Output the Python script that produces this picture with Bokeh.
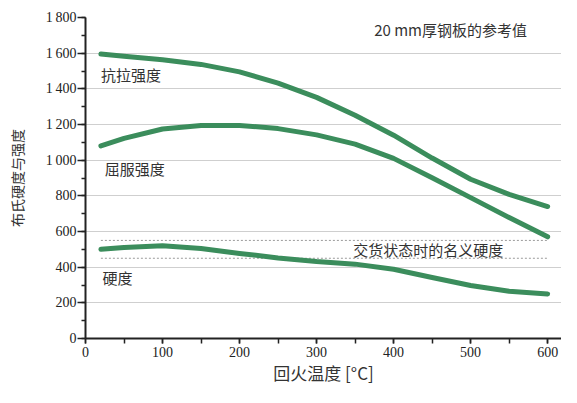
from bokeh.plotting import figure
from bokeh.models import Range1d, CustomJSTickFormatter, FixedTicker, Label
from bokeh.embed import file_html
from bokeh.resources import INLINE

temps = [20, 50, 100, 150, 200, 250, 300, 350, 400, 450, 500, 550, 600]
tensile = [1595, 1583, 1563, 1537, 1495, 1432, 1352, 1252, 1140, 1012, 893, 808, 740]
yield_s = [1080, 1122, 1175, 1195, 1195, 1177, 1142, 1090, 1010, 902, 790, 678, 570]
hardness = [500, 510, 520, 505, 477, 452, 432, 417, 388, 342, 297, 265, 250]
nominal_x = [20, 600]
nominal_hi = [550, 550]
nominal_lo = [450, 450]
y_ticks = [0, 200, 400, 600, 800, 1000, 1200, 1400, 1600, 1800]
x_ticks = [0, 100, 200, 300, 400, 500, 600]

GREEN = "#3b8d5c"
CJK = "Noto Sans CJK SC"
SERIF = "Liberation Serif"

p = figure(width=561, height=387, output_backend="svg", toolbar_location=None,
           x_range=Range1d(0, 618), y_range=Range1d(0, 1800),
           min_border_left=85, min_border_right=0, min_border_top=17, min_border_bottom=47)
p.outline_line_color = None
p.background_fill_color = "white"

# grid
p.xgrid.visible = False
p.ygrid.ticker = FixedTicker(ticks=y_ticks)
p.ygrid.grid_line_color = "#cfcfcf"
p.ygrid.grid_line_width = 1

# axes
for axes in (p.xaxis, p.yaxis):
    axes.axis_line_color = "#222222"
    axes.axis_line_width = 2
    axes.major_tick_line_color = "#222222"
    axes.minor_tick_line_color = "#222222"
    axes.major_tick_line_width = 1.5
    axes.minor_tick_line_width = 1.5
    axes.major_label_text_font = SERIF
    axes.major_label_text_font_size = "14px"
    axes.major_label_text_color = "#222222"
    axes.axis_label_text_font = CJK
    axes.axis_label_text_font_style = "normal"
    axes.axis_label_text_color = "#333333"

p.yaxis.ticker = FixedTicker(ticks=y_ticks, minor_ticks=list(range(0, 1801, 100)))
p.xaxis.ticker = FixedTicker(ticks=x_ticks, minor_ticks=list(range(0, 601, 50)))
p.yaxis.major_tick_out = 8
p.yaxis.major_tick_in = 0
p.yaxis.minor_tick_out = 4
p.yaxis.minor_tick_in = 0
p.xaxis.major_tick_out = 5
p.xaxis.major_tick_in = 0
p.xaxis.minor_tick_out = 5
p.xaxis.minor_tick_in = 0
p.yaxis.formatter = CustomJSTickFormatter(code="""
var s = Math.round(tick).toString();
if (s.length > 3) { s = s.slice(0, s.length-3) + '\u2009' + s.slice(s.length-3); }
return s;
""")
p.yaxis.major_label_standoff = 1
p.xaxis.major_label_standoff = 3

p.xaxis.axis_label = "回火温度 [°C]"
p.xaxis.axis_label_text_font_size = "17px"
p.xaxis.axis_label_standoff = 0
p.yaxis.axis_label = "布氏硬度与强度"
p.yaxis.axis_label_text_font_size = "14px"
p.yaxis.axis_label_standoff = 16

# nominal hardness band
p.line(nominal_x, nominal_hi, line_color="#9a9a9a", line_width=1, line_dash="2 2")
p.line(nominal_x, nominal_lo, line_color="#9a9a9a", line_width=1, line_dash="2 2")

# curves
for ys in (tensile, yield_s, hardness):
    p.line(temps, ys, line_color=GREEN, line_width=5, line_cap="round", line_join="round")

def lab(x, y, t, align="left", size="15px"):
    p.add_layout(Label(x=x, y=y, text=t, text_font=CJK, text_font_size=size,
                       text_color="#333333", text_align=align, text_baseline="middle"))

lab(20, 1480, "抗拉强度")
lab(25, 955, "屈服强度")
lab(22, 342, "硬度")
lab(445, 497, "交货状态时的名义硬度", align="center")
lab(474, 1735, "20 mm厚钢板的参考值", align="center")

open("out.html", "w").write(file_html(p, INLINE))
